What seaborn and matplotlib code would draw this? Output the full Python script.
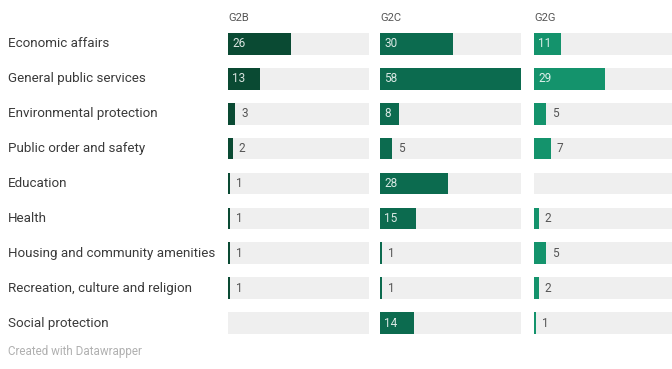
import matplotlib
matplotlib.use("Agg")
import matplotlib.pyplot as plt
import matplotlib.transforms as mtransforms
import numpy as np
import pandas as pd
import seaborn as sns

sns.set_theme(style="white")
plt.rcParams["font.family"] = ["Roboto", "DejaVu Sans"]

categories = [
    "Economic affairs",
    "General public services",
    "Environmental protection",
    "Public order and safety",
    "Education",
    "Health",
    "Housing and community amenities",
    "Recreation, culture and religion",
    "Social protection",
]
g2b = [26, 13, 3, 2, 1, 1, 1, 1, None]
g2c = [30, 58, 8, 5, 28, 15, 1, 1, 14]
g2g = [11, 29, 5, 7, None, 2, 5, 2, 1]

panels = ["G2B", "G2C", "G2G"]
series = [g2b, g2c, g2g]
colors = ["#0a4a33", "#0c6b4f", "#14936c"]

W, H = 672, 369
fig = plt.figure(figsize=(W / 100, H / 100), dpi=100)
fig.patch.set_facecolor("white")

xmax = 58
panel_left = [228, 380, 534]
panel_w = 141
top_px, bottom_px = 26.5, 340.5
row_px = (bottom_px - top_px) / len(categories)
ax_bottom = 1 - bottom_px / H
ax_height = (bottom_px - top_px) / H
header_y = -0.5 - (top_px - 18) / row_px
bar_h = 0.62

axes = []
for name, vals, col, left in zip(panels, series, colors, panel_left):
    ax = fig.add_axes([left / W, ax_bottom, panel_w / W, ax_height])
    axes.append(ax)
    df = pd.DataFrame({"category": categories,
                       "value": [np.nan if v is None else v for v in vals]})
    # grey track behind each bar
    ax.barh(categories, [xmax] * len(categories), height=bar_h,
            color="#efefef", linewidth=0, zorder=0)
    sns.barplot(data=df, y="category", x="value", orient="h", ax=ax,
                color=col, saturation=1, width=bar_h, order=categories,
                linewidth=0, zorder=2)
    ax.set_xlim(0, xmax)
    ax.set_ylim(len(categories) - 0.5, -0.5)
    ax.set_axis_off()
    ax.text(0, header_y, name, ha="left", va="center", fontsize=8,
            color="#555555", transform=ax.transData, clip_on=False)
    for i, v in enumerate(vals):
        if v is None:
            continue
        if v >= 8:
            ax.text(1.7, i, str(v), ha="left", va="center", fontsize=8.5,
                    color="white", alpha=0.85, zorder=3)
        else:
            ax.text(v + 2.4, i, str(v), ha="left", va="center", fontsize=8.5,
                    color="#555555", zorder=3)

trans = mtransforms.blended_transform_factory(fig.transFigure, axes[0].transData)
for i, cat in enumerate(categories):
    fig.text(8 / W, i, cat, ha="left", va="center", fontsize=9.6,
             color="#3a3a3a", transform=trans)

fig.text(8 / W, 1 - 352 / H, "Created with Datawrapper", ha="left", va="center",
         fontsize=8.4, color="#b0b0b0")

fig.savefig("out.png", dpi=100, facecolor="white")
